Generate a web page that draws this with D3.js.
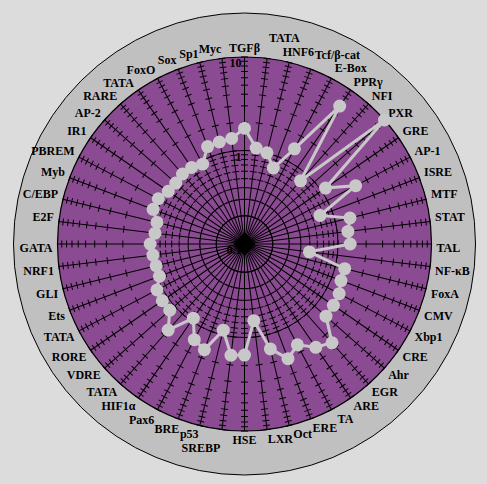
<!DOCTYPE html>
<html><head><meta charset="utf-8">
<script src="https://cdn.jsdelivr.net/npm/d3@7/dist/d3.min.js"></script>
<style>html,body{margin:0;padding:0;background:#dcdcdc;}svg{display:block;}</style>
</head><body>
<script>
const categories = ["TGFβ","TATA","HNF6","Tcf/β-cat","E-Box","PPRγ","NFI","PXR","GRE","AP-1","ISRE","MTF","STAT","TAL","NF-κB","FoxA","CMV","Xbp1","CRE","Ahr","EGR","ARE","TA","ERE","Oct","LXR","HSE","SREBP","p53","BRE","Pax6","HIF1α","TATA","VDRE","RORE","TATA","Ets","GLI","NRF1","GATA","E2F","C/EBP","Myb","PBREM","IR1","AP-2","RARE","TATA","FoxO","Sox","Sp1","Myc"];
const values = [1.73,1.08,1.01,0.74,1.41,6.2,0.8,10,1.13,2.2,0.73,1.45,1.3,1.35,0.5,1.27,1.27,1.39,1.43,1.46,2.58,2.2,1.65,2.05,1.43,0.67,1.54,1.58,0.89,1.62,1.43,0.92,1.7,1.17,1.17,1.14,0.94,0.94,0.97,1.02,0.92,0.92,1.11,1.1,0.98,0.96,1.0,0.99,0.92,1.30,1.33,1.37];
const radialTickValues = [0.1, 1, 10];
const radialTickLabels = ["0.1", "1", "10"];

const W = 487, H = 484, cx = 244.5, cy = 244, R = 187, RING = 231;
const FONT = "'Liberation Serif', 'Times New Roman', serif";
const svg = d3.select("body").append("svg").attr("width", W).attr("height", H);
svg.append("rect").attr("width", W).attr("height", H).attr("fill", "#dcdcdc");
const g = svg.append("g").attr("transform", `translate(${cx},${cy})`);

const r = d3.scaleLog().domain([0.1, 10]).range([0, R]);
const ang = d3.scaleLinear().domain([0, categories.length]).range([0, 2 * Math.PI]);

g.append("circle").attr("r", RING).attr("fill", "#c0c0c0").attr("stroke", "#000").attr("stroke-width", 1);
g.append("circle").attr("r", R).attr("fill", "#8b4b92").attr("stroke", "#000").attr("stroke-width", 1.2);
g.append("circle").attr("r", r(1)).attr("fill", "none").attr("stroke", "#000").attr("stroke-width", 1);

const minorTicks = r.ticks();
categories.forEach((c, i) => {
  const a = ang(i);
  const ax = g.append("g").attr("transform", `rotate(${a * 180 / Math.PI})`);
  ax.append("line").attr("x1", 0).attr("y1", 0).attr("x2", 0).attr("y2", -R).attr("stroke", "#000").attr("stroke-width", 1);
  minorTicks.forEach(t => {
    ax.append("line").attr("x1", -3.5).attr("x2", 3.5).attr("y1", -r(t)).attr("y2", -r(t)).attr("stroke", "#000").attr("stroke-width", 1);
  });
});
g.append("path").attr("d", "M0,-12L11,0L0,12L-11,0Z").attr("fill", "#000");

// category labels: nearest corner of the text box sits on the axis extension;
// on collision, take the smallest nudge (outward or sideways) that clears it
const LR = 192, CAP = 8;
const placed = [];
function overlaps(b) {
  return placed.some(p => b.x < p.x + p.width && b.x + b.width > p.x && b.y < p.y + p.height && b.y + b.height > p.y);
}
function minDist(b) { // nearest point of box to centre must stay outside the disc
  const nx = Math.max(b.x, Math.min(0, b.x + b.width));
  const ny = Math.max(b.y, Math.min(0, b.y + b.height));
  return Math.hypot(nx, ny);
}
for (let i = categories.length - 1; i >= 0; i--) {
  const a = ang(i);
  const s = Math.sin(a), co = Math.cos(a);
  const eps = 1e-6;
  const anchor = s > eps ? "start" : (s < -eps ? "end" : "middle");
  const t = g.append("text").text(categories[i])
    .attr("font-family", FONT).attr("font-weight", "bold").attr("font-size", 12)
    .attr("fill", "#000").attr("text-anchor", anchor);
  const bx = LR * s, by = -LR * co;
  const place = (dx, dy) => {
    const base = co > eps ? by + dy : by + dy + CAP;
    t.attr("x", bx + dx).attr("y", base);
    const bb = t.node().getBBox();
    return { x: bb.x, y: bb.y + 0.5, width: bb.width, height: bb.height - 1 };
  };
  let b = place(0, 0);
  if (overlaps(b)) {
    const ux = s, uy = -co, tx = co, ty = s;
    const dirs = [[ux, uy], [-tx, -ty], [tx, ty], [(ux - tx) / Math.SQRT2, (uy - ty) / Math.SQRT2], [(ux + tx) / Math.SQRT2, (uy + ty) / Math.SQRT2]];
    let done = false;
    for (let d = 1; d <= 40 && !done; d++) {
      for (const [vx, vy] of dirs) {
        const c = place(vx * d, vy * d);
        if (!overlaps(c) && minDist(c) >= R + 2) { b = c; done = true; break; }
      }
    }
  }
  placed.push(b);
}

// series
const line = d3.lineRadial().angle((d, i) => ang(i)).radius(d => r(d)).curve(d3.curveLinearClosed);
g.append("path").datum(values).attr("d", line).attr("fill", "none").attr("stroke", "#c8c8c8").attr("stroke-width", 3);
g.selectAll("circle.pt").data(values).join("circle").attr("class", "pt")
  .attr("cx", (d, i) => r(d) * Math.sin(ang(i)))
  .attr("cy", (d, i) => -r(d) * Math.cos(ang(i)))
  .attr("r", 6.5).attr("fill", "#c8c8c8");

// radial value labels
radialTickValues.forEach((v, k) => {
  g.append("text").text(radialTickLabels[k])
    .attr("x", -3).attr("y", -r(v) + 10)
    .attr("text-anchor", "end")
    .attr("font-family", FONT).attr("font-weight", "bold").attr("font-size", 12).attr("fill", "#000");
});
</script>
</body></html>
